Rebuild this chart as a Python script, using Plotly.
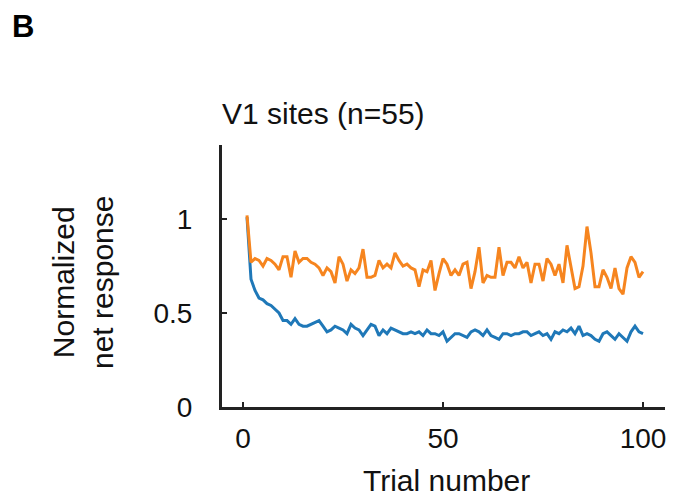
import plotly.graph_objects as go

trials = list(range(1, 101))

familiar = [1.01, 0.68, 0.62, 0.58, 0.57, 0.55, 0.54, 0.52, 0.50, 0.46,
            0.46, 0.44, 0.47, 0.44, 0.43, 0.43, 0.44, 0.45, 0.46, 0.43,
            0.40, 0.41, 0.43, 0.42, 0.41, 0.39, 0.44, 0.42, 0.41, 0.38,
            0.41, 0.44, 0.43, 0.38, 0.41, 0.39, 0.42, 0.41, 0.40, 0.39,
            0.39, 0.40, 0.39, 0.40, 0.38, 0.41, 0.39, 0.39, 0.38, 0.40,
            0.35, 0.37, 0.39, 0.39, 0.38, 0.37, 0.40, 0.41, 0.40, 0.38,
            0.41, 0.38, 0.37, 0.36, 0.39, 0.39, 0.38, 0.39, 0.39, 0.40,
            0.40, 0.38, 0.39, 0.40, 0.38, 0.39, 0.36, 0.40, 0.39, 0.41,
            0.40, 0.42, 0.39, 0.43, 0.38, 0.39, 0.38, 0.36, 0.35, 0.39,
            0.40, 0.38, 0.36, 0.39, 0.37, 0.35, 0.40, 0.43, 0.40, 0.39]

novel = [1.02, 0.77, 0.79, 0.78, 0.75, 0.79, 0.78, 0.76, 0.73, 0.80,
         0.80, 0.69, 0.83, 0.77, 0.79, 0.79, 0.77, 0.76, 0.74, 0.70,
         0.74, 0.72, 0.66, 0.80, 0.76, 0.67, 0.73, 0.71, 0.74, 0.84,
         0.69, 0.69, 0.70, 0.78, 0.74, 0.76, 0.74, 0.82, 0.78, 0.75,
         0.76, 0.74, 0.73, 0.64, 0.73, 0.72, 0.78, 0.62, 0.71, 0.79,
         0.76, 0.70, 0.73, 0.70, 0.76, 0.77, 0.63, 0.72, 0.85, 0.66,
         0.70, 0.69, 0.69, 0.85, 0.70, 0.77, 0.77, 0.74, 0.80, 0.74,
         0.77, 0.66, 0.76, 0.76, 0.67, 0.79, 0.76, 0.70, 0.76, 0.66,
         0.86, 0.75, 0.63, 0.64, 0.75, 0.96, 0.82, 0.64, 0.64, 0.73,
         0.69, 0.63, 0.74, 0.63, 0.60, 0.74, 0.80, 0.77, 0.69, 0.72]

x_ticks = [0, 50, 100]
y_ticks = [0, 0.5, 1]
y_tick_text = ["0", "0.5", "1"]

FONT = "Liberation Sans, Arial, sans-serif"
L, R, T, B = 222, 13, 145, 94
W, H = 678, 501
pw, ph = W - L - R, H - T - B

fig = go.Figure()
fig.add_trace(go.Scatter(x=trials, y=familiar, mode="lines",
                         line=dict(color="#1f78b8", width=3), showlegend=False))
fig.add_trace(go.Scatter(x=trials, y=novel, mode="lines",
                         line=dict(color="#f6851f", width=3), showlegend=False))

axis_common = dict(showline=True, linecolor="#222222", linewidth=3,
                   ticks="inside", ticklen=5, tickwidth=2, tickcolor="#222222",
                   showgrid=False, zeroline=False,
                   tickfont=dict(family=FONT, size=28, color="#111111"))

fig.update_xaxes(range=[-5.25, 105.5], tickvals=x_ticks, ticklabelstandoff=4, **axis_common)
fig.update_yaxes(range=[0, 1.394], tickvals=y_ticks, ticktext=y_tick_text,
                 ticklabelstandoff=21, **axis_common)

def px(xp):
    return (xp - L) / pw

def py(yp):
    return (H - B - yp) / ph

annotations = [
    dict(text="<b>B</b>", x=px(10), y=py(26), xanchor="left", yanchor="middle",
         font=dict(family=FONT, size=31, color="#000000"), showarrow=False),
    dict(text="V1 sites (n=55)", x=px(220), y=py(113), xanchor="left", yanchor="middle",
         font=dict(family=FONT, size=30, color="#111111"), showarrow=False),
    dict(text="Trial number", x=px(446), y=py(480), xanchor="center", yanchor="middle",
         font=dict(family=FONT, size=30, color="#111111"), showarrow=False),
    dict(text="Normalized<br>net response", x=px(83), y=py(283), xanchor="center",
         yanchor="middle", textangle=-90,
         font=dict(family=FONT, size=30, color="#111111"), showarrow=False),
]
for a in annotations:
    a.update(xref="paper", yref="paper")

fig.update_layout(width=W, height=H, margin=dict(l=L, r=R, t=T, b=B),
                  plot_bgcolor="white", paper_bgcolor="white",
                  annotations=annotations)

fig.write_html("out.html", config={"displayModeBar": False},
               post_script="document.body.style.margin='0';")
